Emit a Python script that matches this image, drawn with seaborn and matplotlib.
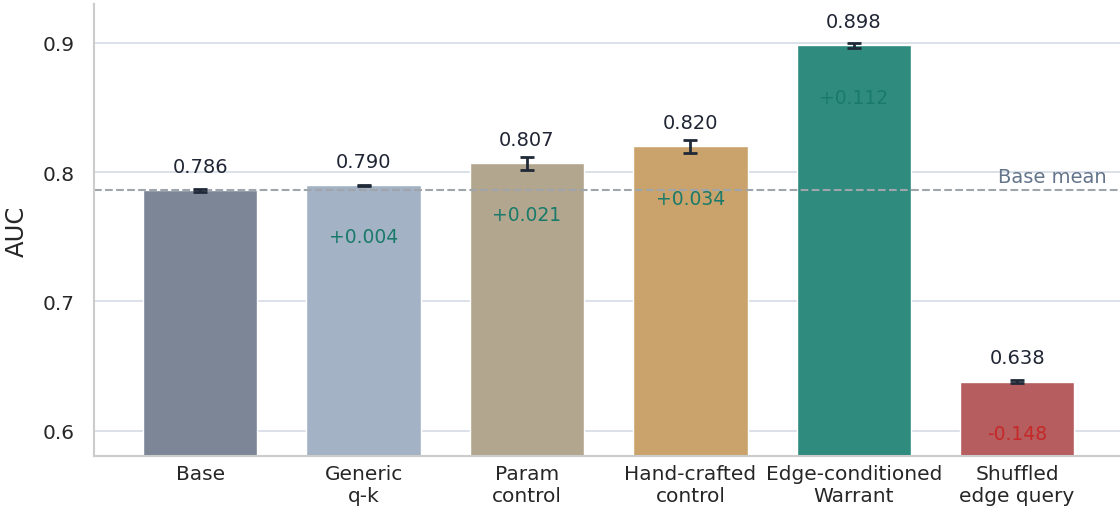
import numpy as np
import pandas as pd
import seaborn as sns
import matplotlib.pyplot as plt

# data
methods = ["Base", "Generic\nq-k", "Param\ncontrol", "Hand-crafted\ncontrol",
           "Edge-conditioned\nWarrant", "Shuffled\nedge query"]
auc = [0.786, 0.790, 0.807, 0.820, 0.898, 0.638]
auc_err = [0.001, 0.0004, 0.005, 0.005, 0.002, 0.001]
colors = ["#7d8696", "#a3b2c4", "#b2a68f", "#c9a36b", "#2e8b7e", "#b55d5f"]
base_mean = 0.786

sns.set_theme(style="whitegrid")
plt.rcParams['font.family'] = ['DejaVu Sans']

df = pd.DataFrame({"method": methods, "auc": auc})

fig, ax = plt.subplots(figsize=(11.2, 5.1), dpi=100)
sns.barplot(data=df, x="method", y="auc", hue="method", palette=colors,
            saturation=1, width=0.7, legend=False, ax=ax)
ax.errorbar(range(len(auc)), auc, yerr=auc_err, fmt="none",
            ecolor="#1f2937", elinewidth=2, capsize=5, capthick=2, zorder=5)

ax.axhline(base_mean, color="#a0a4ab", ls="--", lw=1.5, zorder=1)
ax.text(5.55, base_mean + 0.0035, "Base mean", color="#64748b", fontsize=14,
        ha="right", va="bottom")

for i, (v, e) in enumerate(zip(auc, auc_err)):
    ax.text(i, v + 0.0143, f"{v:.3f}", ha="center", va="baseline",
            fontsize=14, color="#1f2533")
    if i > 0:
        d = v - base_mean
        c = "#1a7a6a" if d > 0 else "#c62828"
        ax.text(i, v - 0.04, f"{d:+.3f}", ha="center", va="center",
                fontsize=13.5, color=c)

ax.set_ylim(0.5805, 0.930)
ax.set_xlim(-0.65, 5.63)
ax.set_yticks([0.6, 0.7, 0.8, 0.9])
ax.set_xlabel("")
ax.set_ylabel("AUC", fontsize=17.5, labelpad=10)
ax.tick_params(axis="y", labelsize=14.5, length=0, pad=14)
ax.tick_params(axis="x", labelsize=14.5, length=0, pad=6)
ax.grid(axis="x", visible=False)
ax.grid(axis="y", color="#d5dbe5", lw=1.2)
sns.despine(ax=ax)
for s in ["left", "bottom"]:
    ax.spines[s].set_color("#cccccc")
    ax.spines[s].set_linewidth(1.5)

plt.subplots_adjust(left=0.084, right=1.0, top=0.99, bottom=0.104)
plt.savefig("out.png", dpi=100)
